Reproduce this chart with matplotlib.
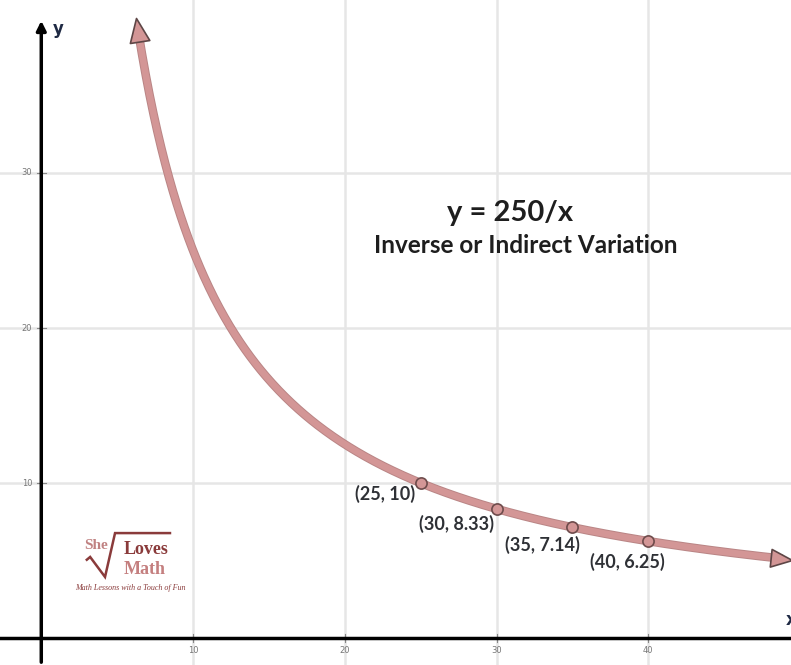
import matplotlib.pyplot as plt
from matplotlib.path import Path
import numpy as np

# Funkcja y = K / x oraz zaznaczone punkty
K = 250
x_start, x_end = 6.25, 49.45
pts_x = [25, 30, 35, 40]
pts_y = [10, 8.33, 7.14, 6.25]
pts_labels = ['(25, 10)', '(30, 8.33)', '(35, 7.14)', '(40, 6.25)']
x_ticks = [10, 20, 30, 40]
y_ticks = [10, 20, 30]

CURVE = '#d39696'
LABEL = '#2f3136'
XLIM = (-2.72, 49.4)
YLIM = (-1.74, 41.16)
W, H = 791, 665

fig = plt.figure(figsize=(W / 100, H / 100), dpi=100)
ax = fig.add_axes([0, 0, 1, 1])
ax.set_xlim(*XLIM)
ax.set_ylim(*YLIM)
ax.axis('off')
sx = W / (XLIM[1] - XLIM[0])
sy = H / (YLIM[1] - YLIM[0])


def arrow_marker(x, direction):
    # grot strzałki (trójkąt) skierowany wzdłuż stycznej, czubek w (0, 0)
    slope = -K / x ** 2
    dx, dy = direction * sx, direction * slope * sy
    ang = np.arctan2(dy, dx)
    v = np.array([[0, 0], [-1.33, 0.55], [-1.33, -0.55], [0, 0]])
    rot = np.array([[np.cos(ang), -np.sin(ang)], [np.sin(ang), np.cos(ang)]])
    return Path(v @ rot.T, closed=True)


# siatka
for t in x_ticks:
    ax.axvline(t, color='#e6e6e6', lw=1.8, zorder=0)
    ax.text(t, -0.5, str(t), ha='center', va='top', fontsize=6, color='#777777')
    ax.plot([t, t], [-0.25, 0.25], color='#888888', lw=0.8)
for t in y_ticks:
    ax.axhline(t, color='#e6e6e6', lw=1.8, zorder=0)
    ax.text(-0.6, t, str(t), ha='right', va='center', fontsize=6, color='#777777')
    ax.plot([-0.3, 0.3], [t, t], color='#888888', lw=0.8)

# osie
ax.plot(list(XLIM), [0, 0], color='black', lw=2.5, zorder=2)
ax.annotate('', xy=(0, 40.0), xytext=(0, YLIM[0]),
            arrowprops=dict(arrowstyle='-|>', color='black', lw=2.5, mutation_scale=14), zorder=2)
ax.text(0.75, 39.3, 'y', fontsize=12, fontweight='bold', color='#1f2a44', va='center')
ax.text(49.05, 1.15, 'x', fontsize=12, fontweight='bold', color='#1f2a44', va='center')

# krzywa
xs = np.linspace(x_start + 0.12, x_end - 0.6, 500)
ax.plot(xs, K / xs, color='#b98585', lw=6.2, solid_capstyle='butt', zorder=3)
ax.plot(xs, K / xs, color=CURVE, lw=4.8, solid_capstyle='butt', zorder=3)
for xe, d, ms in [(x_start, -1, 36), (x_end, 1, 32)]:
    ax.plot([xe], [K / xe], marker=arrow_marker(xe, d), markersize=ms,
            color=CURVE, markeredgecolor='#5e4646', markeredgewidth=1.2, zorder=4)

# punkty
ax.scatter(pts_x, pts_y, s=65, color=CURVE, edgecolor='#6e4c4c', linewidth=1.2, zorder=5)
offsets = [(-26, -8), (-29, -11), (-21.5, -13), (-15, -15)]
for x, y, lab, off in zip(pts_x, pts_y, pts_labels, offsets):
    ax.annotate(lab, (x, y), xytext=off, textcoords='offset points', ha='center', va='center',
                fontsize=13, fontweight='bold', color=LABEL, family='Lato')

# tytuł
ax.text(30.9, 27.4, 'y = 250/x', ha='center', va='center', fontsize=21,
        fontweight='bold', color='#1e1e1e', family='Lato')
ax.text(31.9, 25.3, 'Inverse or Indirect Variation', ha='center', va='center', fontsize=17.5,
        fontweight='bold', color='#1e1e1e', family='Lato')

# logo "She Loves Math"
MAROON = '#8a3b3b'
ax.text(3.6, 6.0, 'She', ha='center', va='center', fontsize=11, fontweight='bold',
        color='#c08282', family='Liberation Serif')
ax.plot([3.0, 3.22, 4.2, 4.86, 8.48], [5.05, 5.23, 3.94, 6.77, 6.77], color=MAROON, lw=1.8,
        solid_joinstyle='miter')
ax.text(6.9, 5.68, 'Loves', ha='center', va='center', fontsize=13, fontweight='bold',
        color=MAROON, family='Liberation Serif')
ax.text(6.83, 4.45, 'Math', ha='center', va='center', fontsize=13, fontweight='bold',
        color='#c47f7f', family='Liberation Serif')
ax.text(5.85, 3.23, 'Math Lessons with a Touch of Fun', ha='center', va='center', fontsize=5.8,
        style='italic', color=MAROON, family='Liberation Serif')

plt.savefig('out.png', dpi=100)
